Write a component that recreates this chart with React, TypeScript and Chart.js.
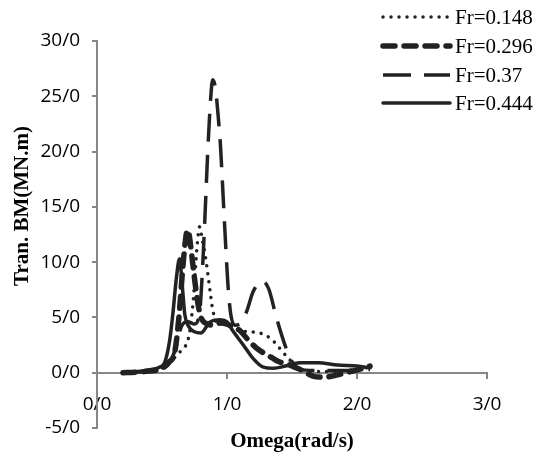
import React, { useEffect, useRef } from "react";
import { Chart, registerables } from "chart.js";

Chart.register(...registerables);

// Fr = 0.148 (dotted)
const omega148 = [0.2, 0.3, 0.4, 0.5, 0.55, 0.6, 0.64, 0.68, 0.71, 0.74, 0.77, 0.79, 0.81, 0.83, 0.85, 0.87, 0.89, 0.92, 0.96, 1.0, 1.05, 1.1, 1.18, 1.25, 1.31, 1.37, 1.42, 1.48, 1.55, 1.62, 1.7, 1.8, 1.9, 2.0, 2.1];
const bm148 = [0, 0.05, 0.15, 0.4, 0.8, 1.4, 1.9, 2.4, 3.5, 6.5, 11.5, 13.2, 12.0, 10.8, 9.2, 7.4, 5.7, 4.6, 4.4, 4.4, 4.1, 3.8, 3.7, 3.6, 3.3, 2.7, 2.0, 1.2, 0.4, 0.2, 0.1, 0.1, 0.2, 0.3, 0.5];

// Fr = 0.296 (thick dash)
const omega296 = [0.2, 0.3, 0.4, 0.5, 0.55, 0.6, 0.63, 0.66, 0.685, 0.7, 0.72, 0.74, 0.76, 0.78, 0.8, 0.85, 0.9, 0.95, 1.0, 1.05, 1.1, 1.16, 1.22, 1.28, 1.34, 1.4, 1.46, 1.52, 1.58, 1.66, 1.75, 1.85, 1.95, 2.03, 2.1];
const bm296 = [0, 0.05, 0.15, 0.4, 0.9, 2.0, 5.0, 9.5, 12.4, 12.9, 11.5, 9.5, 7.6, 6.0, 5.0, 4.4, 4.3, 4.5, 4.4, 4.1, 3.8, 3.0, 2.3, 1.8, 1.4, 1.0, 0.8, 0.5, 0.2, -0.3, -0.4, -0.2, 0.1, 0.35, 0.6];

// Fr = 0.37 (long dash)
const omega37 = [0.2, 0.3, 0.4, 0.5, 0.55, 0.6, 0.65, 0.7, 0.75, 0.79, 0.81, 0.83, 0.85, 0.87, 0.89, 0.91, 0.93, 0.95, 0.97, 0.99, 1.01, 1.03, 1.06, 1.1, 1.15, 1.2, 1.27, 1.32, 1.38, 1.44, 1.5, 1.55, 1.7, 1.9, 2.1];
const bm37 = [0, 0.05, 0.15, 0.4, 0.8, 2.0, 4.2, 4.6, 4.4, 5.5, 9.0, 14.0, 19.5, 24.0, 26.5, 25.8, 23.5, 20.5, 16.0, 11.5, 7.5, 5.2, 4.3, 4.4, 5.5, 7.3, 8.3, 7.6, 5.0, 2.7, 1.0, 0.3, 0.2, 0.2, 0.3];

// Fr = 0.444 (solid)
const omega444 = [0.2, 0.3, 0.4, 0.48, 0.52, 0.56, 0.585, 0.61, 0.635, 0.655, 0.675, 0.7, 0.75, 0.8, 0.87, 0.95, 1.0, 1.05, 1.12, 1.2, 1.28, 1.36, 1.45, 1.56, 1.7, 1.85, 2.0, 2.1];
const bm444 = [-0.05, 0.1, 0.25, 0.5, 0.9, 3.0, 5.5, 8.5, 10.3, 8.0, 5.3, 4.3, 3.7, 3.6, 4.6, 4.8, 4.6, 3.7, 2.6, 1.3, 0.5, 0.4, 0.6, 0.9, 0.9, 0.7, 0.6, 0.45];

const seriesLabels = ["Fr=0.148", "Fr=0.296", "Fr=0.37", "Fr=0.444"];
const xTicks = [0, 1, 2, 3];
const yMin = -5;
const yMax = 30;
const yStep = 5;
const xTitle = "Omega(rad/s)";
const yTitle = "Tran. BM(MN.m)";

const LINE = "#222222";
const AXIS = "#878787";

const toPts = (xs: number[], ys: number[]) => xs.map((x, i) => ({ x, y: ys[i] }));

const styles = [
  { borderWidth: 3.5, borderDash: [0.01, 8], borderCapStyle: "round" as const },
  { borderWidth: 5.5, borderDash: [12, 9], borderCapStyle: "round" as const },
  { borderWidth: 3.5, borderDash: [28, 13], borderCapStyle: "butt" as const },
  { borderWidth: 3.5, borderDash: [] as number[], borderCapStyle: "round" as const },
];

const decor = {
  id: "decor",
  afterDraw(chart: any) {
    const ctx = chart.ctx;
    const area = chart.chartArea;
    ctx.save();
    // axis titles
    ctx.fillStyle = "#000";
    ctx.font = "bold 21px 'Liberation Serif'";
    ctx.textAlign = "center";
    ctx.textBaseline = "middle";
    ctx.fillText(xTitle, (area.left + area.right) / 2, 442);
    ctx.save();
    ctx.translate(23, 206);
    ctx.rotate(-Math.PI / 2);
    ctx.fillText(yTitle, 0, 0);
    ctx.restore();
    // legend
    const rowY = [17, 46, 75, 103];
    chart.data.datasets.forEach((ds: any, i: number) => {
      const y = rowY[i];
      ctx.save();
      ctx.strokeStyle = ds.borderColor;
      ctx.lineWidth = ds.borderWidth;
      ctx.setLineDash(ds.borderDash);
      ctx.lineCap = ds.borderCapStyle;
      ctx.beginPath();
      ctx.moveTo(383, y);
      ctx.lineTo(450, y);
      ctx.stroke();
      ctx.restore();
      ctx.fillStyle = "#000";
      ctx.font = "21px 'Liberation Serif'";
      ctx.textAlign = "left";
      ctx.textBaseline = "middle";
      ctx.fillText(seriesLabels[i], 455, y + 1);
    });
    ctx.restore();
  },
};

export default function App() {
  const ref = useRef<HTMLCanvasElement | null>(null);
  useEffect(() => {
    if (!ref.current) return;
    const data = [
      toPts(omega148, bm148),
      toPts(omega296, bm296),
      toPts(omega37, bm37),
      toPts(omega444, bm444),
    ];
    const chart = new Chart(ref.current, {
      type: "line",
      data: {
        datasets: data.map((d, i) => ({
          label: seriesLabels[i],
          data: d,
          borderColor: LINE,
          backgroundColor: LINE,
          pointRadius: 0,
          fill: false,
          cubicInterpolationMode: "monotone" as const,
          ...styles[i],
        })),
      },
      options: {
        responsive: false,
        animation: false,
        layout: { padding: { left: 0, top: 41, right: 49, bottom: 30 } },
        plugins: { legend: { display: false }, tooltip: { enabled: false } },
        scales: {
          x: {
            type: "linear",
            position: { y: 0 } as any,
            min: 0,
            max: 3,
            afterBuildTicks: (s: any) => {
              s.ticks = xTicks.map((v) => ({ value: v }));
            },
            ticks: {
              callback: (v: any) => `${v}/0`,
              color: "#000",
              font: { family: "'Open Sans'", size: 19 },
              padding: 15,
              maxRotation: 0,
            },
            grid: { drawOnChartArea: false, drawTicks: true, tickLength: 5, color: AXIS, lineWidth: 2 },
            border: { color: AXIS, width: 2 },
          },
          y: {
            type: "linear",
            min: yMin,
            max: yMax,
            afterFit: (s: any) => {
              s.width = 97;
            },
            ticks: {
              stepSize: yStep,
              callback: (v: any) => `${v}/0`,
              color: "#000",
              font: { family: "'Open Sans'", size: 19 },
              padding: 12,
            },
            grid: { drawOnChartArea: false, drawTicks: true, tickLength: 5, color: AXIS, lineWidth: 2 },
            border: { color: AXIS, width: 2 },
          },
        },
      },
      plugins: [decor],
    });
    return () => chart.destroy();
  }, []);
  return (
    <div style={{ position: "fixed", left: 0, top: 0, width: 536, height: 458, background: "#fff" }}>
      <canvas ref={ref} width={536} height={458} style={{ display: "block" }} />
    </div>
  );
}
